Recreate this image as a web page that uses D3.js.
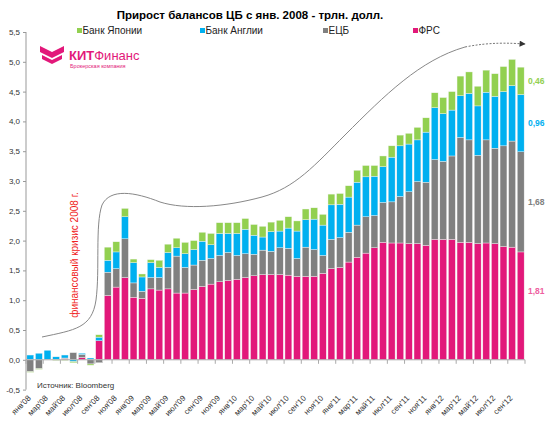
<!DOCTYPE html>
<html><head><meta charset="utf-8">
<script src="https://cdn.jsdelivr.net/npm/d3@7/dist/d3.min.js"></script>
<style>body{margin:0;background:#fff;}svg{display:block;font-family:"Liberation Sans",Arial,sans-serif;}</style>
</head><body>
<svg id="chart" width="550" height="422"></svg>
<script>
const months = ["янв'08","фев'08","мар'08","апр'08","май'08","июн'08","июл'08","авг'08","сен'08","окт'08","ноя'08","дек'08",
"янв'09","фев'09","мар'09","апр'09","май'09","июн'09","июл'09","авг'09","сен'09","окт'09","ноя'09","дек'09",
"янв'10","фев'10","мар'10","апр'10","май'10","июн'10","июл'10","авг'10","сен'10","окт'10","ноя'10","дек'10",
"янв'11","фев'11","мар'11","апр'11","май'11","июн'11","июл'11","авг'11","сен'11","окт'11","ноя'11","дек'11",
"янв'12","фев'12","мар'12","апр'12","май'12","июн'12","июл'12","авг'12","сен'12","окт'12"];
const tickLabels = ["янв'08","мар'08","май'08","июл'08","сен'08","ноя'08","янв'09","мар'09","май'09","июл'09","сен'09","ноя'09",
"янв'10","мар'10","май'10","июл'10","сен'10","ноя'10","янв'11","мар'11","май'11","июл'11","сен'11","ноя'11",
"янв'12","мар'12","май'12","июл'12","сен'12"];
const seriesNames = ["ФРС","ЕЦБ","Банк Англии","Банк Японии"];
const legendOrder = ["Банк Японии","Банк Англии","ЕЦБ","ФРС"];
const frs = [0.01,0.00,0.01,0.01,0.02,0.00,0.04,0.01,0.32,1.08,1.22,1.38,1.05,1.03,1.19,1.17,1.19,1.12,1.12,1.18,
1.23,1.27,1.31,1.33,1.35,1.38,1.41,1.43,1.43,1.43,1.42,1.40,1.40,1.40,1.45,1.53,1.55,1.64,1.72,1.79,
1.88,1.97,1.96,1.96,1.95,1.95,1.92,2.02,2.02,2.02,1.97,1.97,1.95,1.96,1.95,1.90,1.89,1.81];
const ecb = [-0.20,-0.15,0.00,0.00,0.01,0.12,0.05,-0.07,-0.05,0.39,0.31,0.65,0.24,0.12,0.19,0.21,0.36,0.62,0.43,0.41,
0.44,0.43,0.44,0.47,0.40,0.40,0.36,0.41,0.39,0.45,0.45,0.30,0.49,0.45,0.30,0.49,0.50,0.50,0.54,0.61,
0.54,0.67,0.69,0.78,0.87,1.04,1.06,1.34,1.31,1.40,1.76,1.72,1.48,1.73,1.60,1.69,1.78,1.68];
const boe = [0.07,0.11,0.15,0.04,0.05,-0.03,0.02,0.02,0.06,0.20,0.28,0.37,0.34,0.24,0.25,0.17,0.25,0.14,0.23,0.26,
0.32,0.23,0.37,0.32,0.37,0.41,0.32,0.22,0.33,0.28,0.34,0.46,0.46,0.51,0.51,0.58,0.56,0.59,0.72,0.67,
0.66,0.60,0.75,0.85,0.80,0.70,0.84,0.87,0.80,0.77,0.70,0.78,0.83,0.80,0.87,0.91,0.93,0.96];
const boj = [-0.01,-0.01,0.00,-0.01,-0.01,-0.02,0.00,-0.02,0.04,0.22,0.17,0.14,0.06,0.05,0.05,0.12,0.14,0.16,0.19,0.15,
0.15,0.19,0.18,0.18,0.18,0.18,0.18,0.18,0.16,0.18,0.19,0.17,0.18,0.19,0.18,0.18,0.18,0.19,0.20,0.19,
0.18,0.18,0.19,0.18,0.18,0.21,0.24,0.25,0.27,0.31,0.33,0.36,0.33,0.37,0.38,0.42,0.44,0.46];
const yTicks = [-0.5,0,0.5,1,1.5,2,2.5,3,3.5,4,4.5,5,5.5];

const colors = {"ФРС":"#e2187a","ЕЦБ":"#808080","Банк Англии":"#00b0f0","Банк Японии":"#92d050"};
const labelColors = {"ФРС":"#ee5fa0","ЕЦБ":"#808080","Банк Англии":"#00b0f0","Банк Японии":"#92d050"};
const table = months.map((m,i)=>({month:m,"ФРС":frs[i],"ЕЦБ":ecb[i],"Банк Англии":boe[i],"Банк Японии":boj[i]}));

const svg = d3.select("#chart");
const x = d3.scaleBand().domain(months).range([26,525]).paddingInner(0.2).paddingOuter(0.1);
const y = d3.scaleLinear().domain([-0.5,5.5]).range([389.6,32]);
const stack = d3.stack().keys(seriesNames).offset(d3.stackOffsetDiverging);
const layers = stack(table);

// title
svg.append("text").attr("x",250).attr("y",19).attr("text-anchor","middle")
  .attr("font-size",11.5).attr("font-weight","bold").attr("fill","#000")
  .text("Прирост балансов ЦБ с янв. 2008 - трлн. долл.");

// legend
const legX = {"Банк Японии":77,"Банк Англии":200,"ЕЦБ":323,"ФРС":413};
legendOrder.forEach(k=>{
  svg.append("rect").attr("x",legX[k]).attr("y",28).attr("width",5).attr("height",5).attr("fill",colors[k]);
  svg.append("text").attr("x",legX[k]+5.5).attr("y",33.5).attr("font-size",10).attr("fill","#222").text(k);
});

// bars
svg.append("g").selectAll("g").data(layers).join("g").attr("fill",d=>colors[d.key])
  .selectAll("rect").data(d=>d).join("rect")
  .attr("x",d=>x(d.data.month)).attr("width",x.bandwidth())
  .attr("y",d=>y(Math.max(d[0],d[1]))).attr("height",d=>Math.abs(y(d[0])-y(d[1])))
  .attr("stroke","#f4f4f4").attr("stroke-width",0.4);

// y axis
const yAxis = d3.axisLeft(y).tickValues(yTicks).tickSize(3).tickFormat(d=>d3.format(".1f")(d).replace(".",",").replace("−","-"));
const gy = svg.append("g").attr("transform","translate(26,0)").call(yAxis);
gy.select(".domain").attr("stroke","#999").attr("d","M0,"+y(-0.5)+"V"+y(5.5));
gy.selectAll(".tick line").attr("stroke","#999");
gy.selectAll(".tick text").attr("font-size",8).attr("fill","#333").attr("x",-6).attr("font-family","Liberation Sans, Arial, sans-serif");

// x axis at zero
const gx = svg.append("g");
gx.append("line").attr("x1",26).attr("x2",525).attr("y1",y(0)).attr("y2",y(0)).attr("stroke","#aaa");
const step = x.step();
months.forEach((m,i)=>{
  if(i%2===0){
    const bx = x(m)+x.bandwidth()/2-step/2;
    gx.append("line").attr("x1",bx).attr("x2",bx).attr("y1",y(0)).attr("y2",y(0)+4).attr("stroke","#aaa");
  }
});
gx.append("line").attr("x1",525).attr("x2",525).attr("y1",y(0)).attr("y2",y(0)+4).attr("stroke","#aaa");
tickLabels.forEach(t=>{
  const cx = x(t)+x.bandwidth()/2;
  gx.append("text").attr("transform","translate("+(cx-1)+","+(y(-0.5)+7)+") rotate(-45)")
    .attr("text-anchor","end").attr("dy","0.35em").attr("font-size",8).attr("fill","#333").text(t);
});

// source
svg.append("text").attr("x",37).attr("y",388).attr("font-size",8).attr("fill","#333").text("Источник: Bloomberg");

// end-of-series labels for last bar
const lastLayer = layers.map(l=>({key:l.key,seg:l[l.length-1]}));
lastLayer.forEach(o=>{
  const v = o.seg.data[o.key];
  const frac = o.key==="ФРС" ? 0.64 : 0.5;
  const ym = y(o.seg[0] + (o.seg[1]-o.seg[0])*frac);
  svg.append("text").attr("x",528).attr("y",ym).attr("dy","0.35em").attr("font-size",8.5)
    .attr("fill",labelColors[o.key]).attr("font-weight","bold").text(d3.format(".2f")(v).replace(".",","));
});

// annotation curve with arrow
const defs = svg.append("defs");
defs.append("marker").attr("id","arr").attr("viewBox","0 0 10 10").attr("refX",9).attr("refY",5)
  .attr("markerWidth",9).attr("markerHeight",6).attr("orient","auto").attr("markerUnits","userSpaceOnUse")
  .append("path").attr("d","M0,0L10,5L0,10z").attr("fill","#333");
svg.append("path")
  .attr("d","M42,337 C75,330 92,328 96,300 C100,270 95,225 102,205 C110,188 135,192 160,202 C185,210 225,207 262,197 C295,188 315,165 345,135 C385,95 420,60 465,47")
  .attr("fill","none").attr("stroke","#888").attr("stroke-width",1);
svg.append("path")
  .attr("d","M465,47 C490,42 510,43 525,44")
  .attr("fill","none").attr("stroke","#777").attr("stroke-width",1).attr("stroke-dasharray","2,1.5").attr("marker-end","url(#arr)");

// crisis text
svg.append("text").attr("transform","translate(78,255) rotate(-90)").attr("text-anchor","middle")
  .attr("font-size",10).attr("fill","#f02020").text("финансовый кризис 2008 г.");

// logo
const logo = svg.append("g");
logo.append("path").attr("d","M40,46 L52,52 L64,46 L64,52 L52,58 L40,52 Z").attr("fill","#e2187a");
logo.append("path").attr("d","M42,55 L52,60 L62,55 L62,59 L52,64 L42,59 Z").attr("fill","#e2187a");
const lt = logo.append("text").attr("x",69).attr("y",60).attr("font-size",13).attr("fill","#e2187a");
lt.append("tspan").attr("font-weight","bold").text("КИТ");
lt.append("tspan").text("Финанс");
logo.append("text").attr("x",70).attr("y",68).attr("font-size",5.5).attr("fill","#e2187a").text("Брокерская компания");
</script>
</body></html>
